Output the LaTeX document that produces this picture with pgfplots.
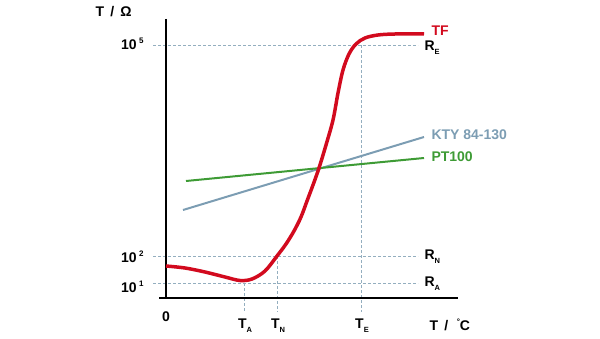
\documentclass[border=0pt]{standalone}
\usepackage{pgfplots}
\pgfplotsset{compat=1.18}
\usepackage{fontspec}
\setmainfont{Liberation Sans}
\definecolor{tfred}{HTML}{D20A1E}
\definecolor{kty}{HTML}{7C9DB3}
\definecolor{ptg}{HTML}{3E9B35}
\definecolor{dashc}{HTML}{93AEBF}
\newcommand\lab{\fontsize{14}{16}\selectfont\bfseries}
\newcommand\sub[1]{\raisebox{-0.55ex}{\fontsize{7.5}{8}\selectfont\bfseries #1}}
\newcommand\sups[1]{\raisebox{0.8ex}{\fontsize{8}{8}\selectfont\bfseries #1}}
\begin{document}
\begin{tikzpicture}
\begin{axis}[hide axis, scale only axis, width=600pt, height=338pt,
  xmin=0, xmax=600, ymin=0, ymax=338, clip=false]
\addplot[draw=none] coordinates {(0,0) (600,338)};
% dashed guide lines
\addplot[dashc, line width=0.9pt, dash pattern=on 3pt off 2pt] coordinates {(153,293) (418,293)};
\addplot[dashc, line width=0.9pt, dash pattern=on 3pt off 2pt] coordinates {(153,82) (418,82)};
\addplot[dashc, line width=0.9pt, dash pattern=on 3pt off 2pt] coordinates {(153,55) (418,55)};
\addplot[dashc, line width=0.9pt, dash pattern=on 3pt off 2pt] coordinates {(244,55) (244,26)};
\addplot[dashc, line width=0.9pt, dash pattern=on 3pt off 2pt] coordinates {(277,82) (277,26)};
\addplot[dashc, line width=0.9pt, dash pattern=on 3pt off 2pt] coordinates {(361,293) (361,26)};
% axes
\addplot[black, line width=2.5pt] coordinates {(166,319) (166,40)};
\addplot[black, line width=2.5pt] coordinates {(159,40) (458,40)};
% sensors
\addplot[kty, line width=2pt] coordinates {(183,128) (424,201)};
\addplot[ptg, line width=2pt] coordinates {(186,157) (424,180)};
\addplot[tfred, line width=3.5pt, smooth, tension=0.55] coordinates {
 (166,72) (185,70) (205,66) (225,61) (240,57.5) (252,59) (265,67) (277,82)
 (286,94) (294,107) (301,121) (307,137) (313,153) (319,170) (326,193)
 (333,218) (338,245) (343,268) (349,284) (356,294) (365,300)
 (378,303) (395,304) (424,304)};
% labels
\node[anchor=east] at (axis cs:147,294) {\lab 10\,\sups{5}};
\node[anchor=east] at (axis cs:147,81) {\lab 10\,\sups{2}};
\node[anchor=east] at (axis cs:147,51) {\lab 10\,\sups{1}};
\node at (axis cs:166,21) {\lab 0};
\node at (axis cs:245,12) {\lab T\sub{A}};
\node at (axis cs:278,12) {\lab T\sub{N}};
\node at (axis cs:362,12) {\lab T\sub{E}};
\node[anchor=west] at (axis cs:426,13) {\lab T\, /\,\, \sups{°}C};
\node[anchor=west] at (axis cs:92,326) {\lab T\, /\, Ω};
\node[anchor=west, text=tfred] at (axis cs:428,307) {\lab TF};
\node[anchor=west] at (axis cs:421,290) {\lab R\sub{E}};
\node[anchor=west] at (axis cs:421,81) {\lab R\sub{N}};
\node[anchor=west] at (axis cs:421,54) {\lab R\sub{A}};
\node[anchor=west, text=kty] at (axis cs:428,203) {\lab KTY 84-130};
\node[anchor=west, text=ptg] at (axis cs:428,181) {\lab PT100};
\end{axis}
\end{tikzpicture}
\end{document}
